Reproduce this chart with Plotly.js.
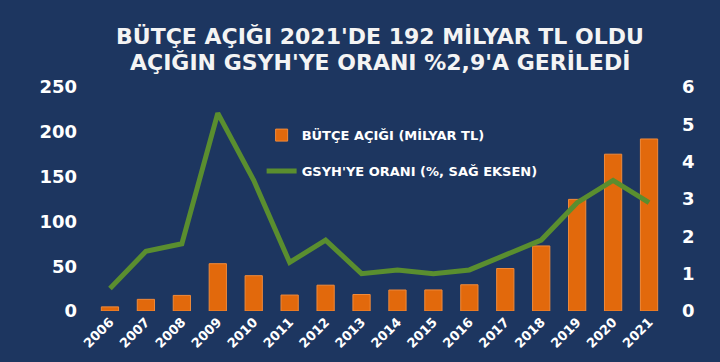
<!DOCTYPE html>
<html><head><meta charset="utf-8">
<script src="https://cdn.plot.ly/plotly-3.0.1.min.js"></script>
<style>html,body{margin:0;padding:0;background:#1d3660;}#chart{width:720px;height:362px;}</style>
</head><body><div id="chart"></div>
<script>
const years = ['2006','2007','2008','2009','2010','2011','2012','2013','2014','2015','2016','2017','2018','2019','2020','2021'];
const deficit = [4.6, 13.0, 17.4, 52.8, 39.4, 17.8, 28.8, 18.4, 23.4, 23.5, 29.3, 47.4, 72.6, 124.6, 175, 192];
const gdpRatio = [0.6, 1.6, 1.8, 5.3, 3.5, 1.3, 1.9, 1.0, 1.1, 1.0, 1.1, 1.5, 1.9, 2.9, 3.5, 2.9];
const seriesNames = ['BÜTÇE AÇIĞI (MİLYAR TL)', "GSYH'YE ORANI (%, SAĞ EKSEN)"];
const titleLines = ["BÜTÇE AÇIĞI 2021'DE 192 MİLYAR TL OLDU", "AÇIĞIN GSYH'YE ORANI %2,9'A GERİLEDİ"];

const F = 'DejaVu Sans, Verdana, sans-serif';
const traces = [
  {type:'bar', x: years, y: deficit, name: seriesNames[0], legendgroup:'a',
   marker:{color:'#e2690c', line:{color:'#f08a3a', width:1}}, width:0.48},
  {type:'scatter', mode:'lines', x: years, y: gdpRatio, yaxis:'y2', name: seriesNames[1], legendgroup:'b',
   line:{color:'#5a8e2f', width:5}}
];
const i20 = years.indexOf('2020'), i21 = years.indexOf('2021');
const layout = {
  width:720, height:362,
  paper_bgcolor:'#1d3660', plot_bgcolor:'#1d3660',
  margin:{l:92, r:53, t:87, b:51},
  showlegend:true,
  legend:{x:0.295, y:0.852, xanchor:'left', yanchor:'top', bgcolor:'rgba(0,0,0,0)', itemwidth:30,
          font:{family:F, size:13, color:'#ffffff', weight:'bold'}, tracegroupgap:16, traceorder:'grouped'},
  xaxis:{type:'category', range:[-0.5,15.5], tickangle:-45, showgrid:false, zeroline:false, showline:false, ticks:'',
         tickfont:{family:F, size:13, color:'#ffffff', weight:'bold'}},
  yaxis:{range:[0,250], dtick:50, showgrid:false, zeroline:false, showline:false, ticks:'', ticklabelstandoff:14,
         tickfont:{family:F, size:18, color:'#ffffff', weight:'bold'}},
  yaxis2:{range:[0,6], dtick:1, overlaying:'y', side:'right', showgrid:false, zeroline:false, showline:false, ticks:'', ticklabelstandoff:14,
          tickfont:{family:F, size:18, color:'#ffffff', weight:'bold'}},
  annotations:[
    {x:0.5, y:37, xref:'paper', yref:'paper', text:titleLines[0], showarrow:false, xanchor:'center', yanchor:'middle',
     font:{family:F, size:22, color:'#f4f4f4', weight:'bold'}},
    {x:0.5, y:63, xref:'paper', yref:'paper', text:titleLines[1], showarrow:false, xanchor:'center', yanchor:'middle',
     font:{family:F, size:22, color:'#f4f4f4', weight:'bold'}},
    {x: years[i20], y: deficit[i20], xref:'x', yref:'y', text: String(deficit[i20]), showarrow:false, yanchor:'bottom', yshift:5,
     font:{family:F, size:15, color:'#ffffff', weight:'bold'}},
    {x: years[i21], y: deficit[i21], xref:'x', yref:'y', text: String(deficit[i21]), showarrow:false, yanchor:'bottom', yshift:5,
     font:{family:F, size:15, color:'#ffffff', weight:'bold'}},
    {x: years[i20], y: gdpRatio[i20], xref:'x', yref:'y2', text: String(gdpRatio[i20]).replace('.', ','), showarrow:true,
     arrowhead:0, arrowwidth:0.8, arrowcolor:'#d8c8a8', ax:-26, ay:-9, standoff:0,
     font:{family:F, size:14, color:'#ffffff', weight:'bold'}},
    {x: years[i21], y: gdpRatio[i21], xref:'x', yref:'y2', text: String(gdpRatio[i21]).replace('.', ','), showarrow:false,
     xshift:14, yshift:-15, font:{family:F, size:14, color:'#ffffff', weight:'bold'}}
  ]
};
// convert title pixel centers to paper coords
const plotH = layout.height - layout.margin.t - layout.margin.b;
layout.annotations[0].y = (layout.height - layout.margin.b - layout.annotations[0].y) / plotH;
layout.annotations[1].y = (layout.height - layout.margin.b - layout.annotations[1].y) / plotH;
Plotly.newPlot('chart', traces, layout, {displayModeBar:false, staticPlot:true});
</script></body></html>
